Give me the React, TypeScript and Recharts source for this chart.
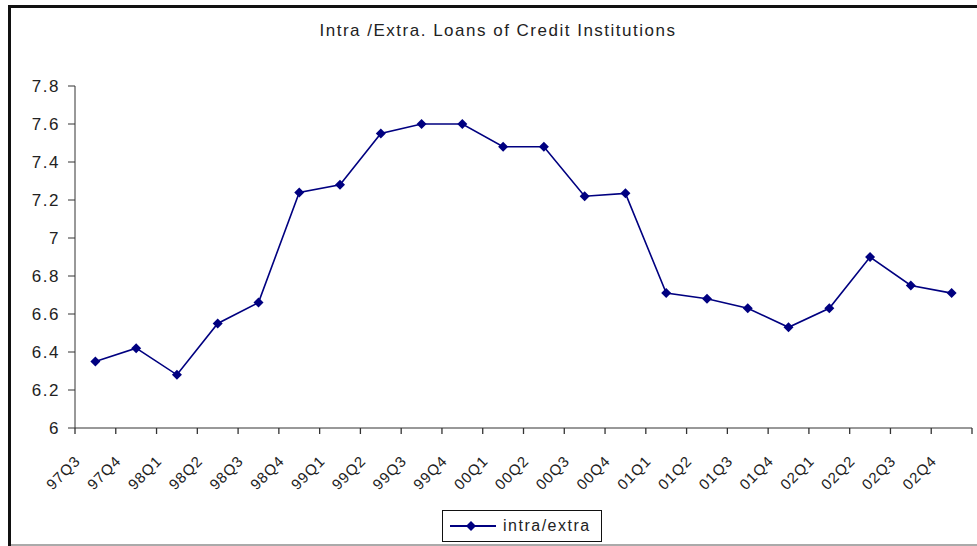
import { LineChart, Line, XAxis, YAxis, Legend } from "recharts";

const categories = [
  "97Q3", "97Q4", "98Q1", "98Q2", "98Q3", "98Q4", "99Q1", "99Q2", "99Q3", "99Q4", "00Q1",
  "00Q2", "00Q3", "00Q4", "01Q1", "01Q2", "01Q3", "01Q4", "02Q1", "02Q2", "02Q3", "02Q4",
];
const intraExtra = [
  6.35, 6.42, 6.28, 6.55, 6.66, 7.24, 7.28, 7.55, 7.6, 7.6, 7.48,
  7.48, 7.22, 7.235, 6.71, 6.68, 6.63, 6.53, 6.63, 6.9, 6.75, 6.71,
];
const yTicks = [6, 6.2, 6.4, 6.6, 6.8, 7, 7.2, 7.4, 7.6, 7.8];

const data = categories.map((q, i) => ({ q, value: intraExtra[i] }));

const W = 977;
const H = 546;
const MARGIN = { top: 86, right: 5, left: 15, bottom: 0 };
const Y_WIDTH = 60;
const BAND = (W - MARGIN.left - MARGIN.right - Y_WIDTH) / categories.length;

const FONT = "'Liberation Sans', Arial, sans-serif";
const NAVY = "#000080";
const TEXT = "#222";
const AXIS = "#333";

const Diamond = ({ cx, cy }: any) => {
  if (cx == null || cy == null) return null;
  const r = 5;
  return (
    <polygon
      points={`${cx},${cy - r} ${cx + r},${cy} ${cx},${cy + r} ${cx - r},${cy}`}
      fill={NAVY}
    />
  );
};

const XTick = ({ x, y, payload, index }: any) => {
  const half = BAND / 2;
  const lx = x - 14;
  const ly = y + 34;
  return (
    <g>
      <line x1={x - half} x2={x - half} y1={y} y2={y + 6} stroke={AXIS} strokeWidth={1.3} />
      {index === categories.length - 1 && (
        <line x1={x + half} x2={x + half} y1={y} y2={y + 6} stroke={AXIS} strokeWidth={1.3} />
      )}
      <text
        x={lx}
        y={ly}
        transform={`rotate(-45 ${lx} ${ly})`}
        textAnchor="end"
        fill={TEXT}
        fontSize={15}
        letterSpacing={1}
        fontFamily={FONT}
      >
        {payload.value}
      </text>
    </g>
  );
};

const LegendBox = () => (
  <div
    style={{
      width: 160,
      height: 32,
      boxSizing: "border-box",
      border: "1px solid #111",
      background: "#fff",
      display: "flex",
      alignItems: "center",
      fontFamily: FONT,
      fontSize: 16,
      letterSpacing: 1.5,
      color: TEXT,
    }}
  >
    <svg width={54} height={14} style={{ marginLeft: 6 }}>
      <line x1={1} x2={47} y1={7} y2={7} stroke={NAVY} strokeWidth={2} />
      <polygon points="22,2 27,7 22,12 17,7" fill={NAVY} />
    </svg>
    <span>intra/extra</span>
  </div>
);

export default function App() {
  return (
    <div
      style={{
        position: "absolute",
        left: 0,
        top: 0,
        width: W,
        height: H,
        overflow: "hidden",
        background: "#fff",
      }}
    >
      <div
        style={{
          position: "absolute",
          left: 8,
          top: 5,
          width: 1200,
          height: 1200,
          border: "3px solid #111",
        }}
      />
      <div
        style={{
          position: "absolute",
          left: 11,
          top: 544,
          width: W,
          height: 1.5,
          background: "#aaa",
        }}
      />
      <div
        style={{
          position: "absolute",
          left: 0,
          top: 21,
          width: 996,
          textAlign: "center",
          fontFamily: FONT,
          fontSize: 17,
          letterSpacing: 1.5,
          color: TEXT,
        }}
      >
        Intra /Extra. Loans of Credit Institutions
      </div>
      <div style={{ position: "absolute", left: 0, top: 0 }}>
        <LineChart width={W} height={H} data={data} margin={MARGIN}>
          <XAxis
            dataKey="q"
            scale="band"
            height={H - MARGIN.top - 342}
            stroke={AXIS}
            tickLine={false}
            tickSize={0}
            tickMargin={0}
            interval={0}
            tick={<XTick />}
          />
          <YAxis
            domain={[6, 7.8]}
            ticks={yTicks}
            width={Y_WIDTH}
            stroke={AXIS}
            tickSize={7}
            tickMargin={8}
            tick={{ fill: TEXT, fontSize: 17, fontFamily: FONT, letterSpacing: 1.5 }}
          />
          <Legend
            layout="vertical"
            align="center"
            verticalAlign="middle"
            wrapperStyle={{ left: 442, top: 510, width: 160 }}
            content={<LegendBox />}
          />
          <Line
            dataKey="value"
            name="intra/extra"
            stroke={NAVY}
            strokeWidth={1.6}
            dot={<Diamond />}
            activeDot={false}
            isAnimationActive={false}
          />
        </LineChart>
      </div>
    </div>
  );
}
